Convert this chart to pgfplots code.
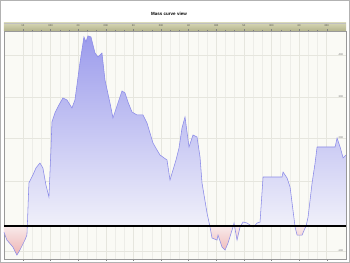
\documentclass[border=0pt]{standalone}
\usepackage{fontspec}
\setmainfont{Liberation Sans}
\usepackage{pgfplots}
\usepackage{pgfplotstable}
\pgfplotsset{compat=1.18}
\definecolor{bgc}{HTML}{FAFAF5}
\definecolor{gridc}{HTML}{E6E6DE}
\definecolor{bandtop}{HTML}{D6D6B4}
\definecolor{bandbot}{HTML}{B4B48C}
\definecolor{linec}{HTML}{8A8AE8}
\definecolor{filltop}{HTML}{9C9CEC}
\definecolor{fillbot}{HTML}{F0F0FA}
\definecolor{negtop}{HTML}{F8EAEA}
\definecolor{negbot}{HTML}{EEB4B4}
\pgfplotstableread{
x y
4 -6
7 -14
13 -21
17 -29
20 -24
25 -14
27 -9
27.4 0
29 43
33 51
36 58
40 63
43 58
46 41
49 29
51 76
52 104
55 113
59 121
63 128
67 126
72 118
75 126
80 163
84 189
86 184
88 190
91 189
95 173
98 169
102 173
105 146
110 123
113 108
118 123
122 135
125 133
128 124
132 114
137 111
143 111
147 103
150 93
153 83
157 76
160 71
167 66
170 46
173 56
176 66
179 78
182 98
185 109
189 79
193 91
197 89
200 69
202 43
207 13
209.8 0
210 -1
212 -12
217 -14
218 -9
222 -21
225 -24
228 -17
232 -4
233.3 0
234 3
234.5 0
237 -14
240 -1
240.6 0
243 4
247 3
250 1
251.5 0
253 -1
254.5 0
257 3
260 4
263 49
282 49
283 54
287 48
290 39
294.9 0
295 -1
297 -9
302 -9
305 -2
306 0
308 9
312 43
315 63
317 79
327 79
335 79
337 88
340 79
343 68
346 71
}\curve
\begin{document}
\begin{tikzpicture}[x=1pt,y=1pt]
\draw[fill=white, draw=gray!60, line width=0.8pt] (0.5,0.5) rectangle (349.5,262.5);
\shade[top color=bandtop, bottom color=bandbot] (4,232) rectangle (346,240);
\draw[gray!50, line width=0.3pt] (4,240) -- (346,240);
\node[font=\bfseries\fontsize{4.5}{5}\selectfont] at (169,249) {Mass curve view};
\begin{axis}[at={(4pt,4pt)}, anchor=south west, scale only axis,
  width=342pt, height=228pt,
  xmin=4, xmax=346, ymin=-33, ymax=195,
  axis background/.style={fill=bgc},
  axis line style={draw=gray!80, line width=0.6pt},
  xtick={23,50.6,78.2,105.8,133.4,161,188.6,216.2,243.8,271.4,299,326.6},
  xticklabels={10,000,20,000,30,000,40,000,50,000,60,000,70,000,80,000,90,000,100,000,110,000,120,000},
  xticklabel pos=upper,
  xticklabel style={font=\fontsize{2.6}{3}\selectfont, text=black!70, anchor=center, yshift=4pt},
  minor x tick num=2,
  ytick={171,129,88,45,-25},
  yticklabels={400,300,200,100,-100},
  yticklabel pos=right,
  yticklabel style={font=\fontsize{2.6}{3}\selectfont, text=black!60, anchor=east, xshift=-1pt},
  ytick style={draw=none},
  xtick style={draw=black!50, line width=0.3pt},
  tick align=outside,
  major tick length=1.5pt, minor tick length=1pt,
  xmajorgrids, xminorgrids, ymajorgrids,
  major grid style={draw=gridc, line width=0.4pt},
  minor grid style={draw=gridc!70, line width=0.4pt},
  axis on top=false,
]
\addplot[draw=none, shading=axis, top color=filltop, bottom color=fillbot, y filter/.expression={max(y,0)}] table[x=x,y=y] {\curve} \closedcycle;
\addplot[draw=none, shading=axis, top color=negtop, bottom color=negbot, y filter/.expression={min(y,0)}] table[x=x,y=y] {\curve} \closedcycle;
\addplot[draw=linec, line width=0.55pt] table[x=x,y=y] {\curve};
\addplot[draw=black, line width=1.2pt] coordinates {(4,0) (346,0)};
\end{axis}
\end{tikzpicture}
\end{document}
